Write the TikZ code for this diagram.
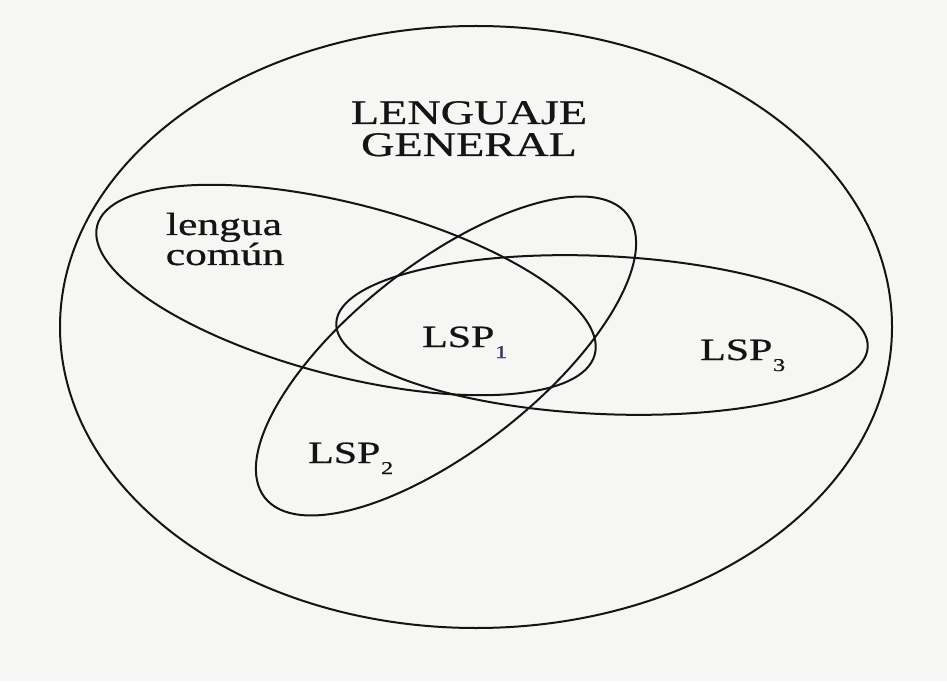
\documentclass[tikz,border=0pt]{standalone}
\usepackage{fontspec}
\setmainfont{Liberation Serif}
\newfontfamily\scanfont{Liberation Serif}[FakeBold=0.6]
\definecolor{ink}{RGB}{20,20,20}
\definecolor{paper}{RGB}{246,246,245}
\definecolor{subviolet}{RGB}{60,50,95}
\newcommand{\lspsub}[1]{\kern0.5pt\raisebox{-11pt}{\fontsize{18}{18}\selectfont #1}}
\tikzset{
  venn/.style={draw=ink, line width=2pt},
  headtxt/.style={font=\scanfont\fontsize{34.5}{34.5}\selectfont, text=ink, xscale=1.34, inner sep=0pt, anchor=base},
  lctxt/.style={font=\scanfont\fontsize{32}{32}\selectfont, text=ink, xscale=1.36, inner sep=0pt, anchor=base},
  lsptxt/.style={font=\scanfont\fontsize{31}{31}\selectfont, text=ink, xscale=1.35, inner sep=0pt, anchor=base west}
}
\begin{document}
\begin{tikzpicture}[x=1pt,y=1pt]
\useasboundingbox (0,0) rectangle (947,681);
\fill[paper] (0,0) rectangle (947,681);
% outer set: lenguaje general
\draw[venn] (476,354) ellipse [x radius=416pt, y radius=301pt];
% lengua comun
\draw[venn, rotate around={-14.5:(346,391)}] (346,391) ellipse [x radius=257pt, y radius=86pt];
% LSP2
\draw[venn, rotate around={38:(446,325)}] (446,325) ellipse [x radius=230pt, y radius=93pt];
% LSP3
\draw[venn, rotate around={-2.6:(602,346)}] (602,346) ellipse [x radius=266pt, y radius=79pt];
% labels
\node[headtxt] (lg1) at (469,557) {LENGUAJE};
\node[headtxt] (lg2) at (469,525) {GENERAL};
\node[lctxt] (lc1) at (224,446) {lengua};
\node[lctxt] (lc2) at (225,416) {común};
\node[lsptxt] (lsp1) at (422,334) {LSP\lspsub{\textcolor{subviolet}{1}}};
\node[lsptxt] (lsp2) at (308,218) {LSP\lspsub{2}};
\node[lsptxt] (lsp3) at (700,321) {LSP\lspsub{3}};
\end{tikzpicture}
\end{document}
